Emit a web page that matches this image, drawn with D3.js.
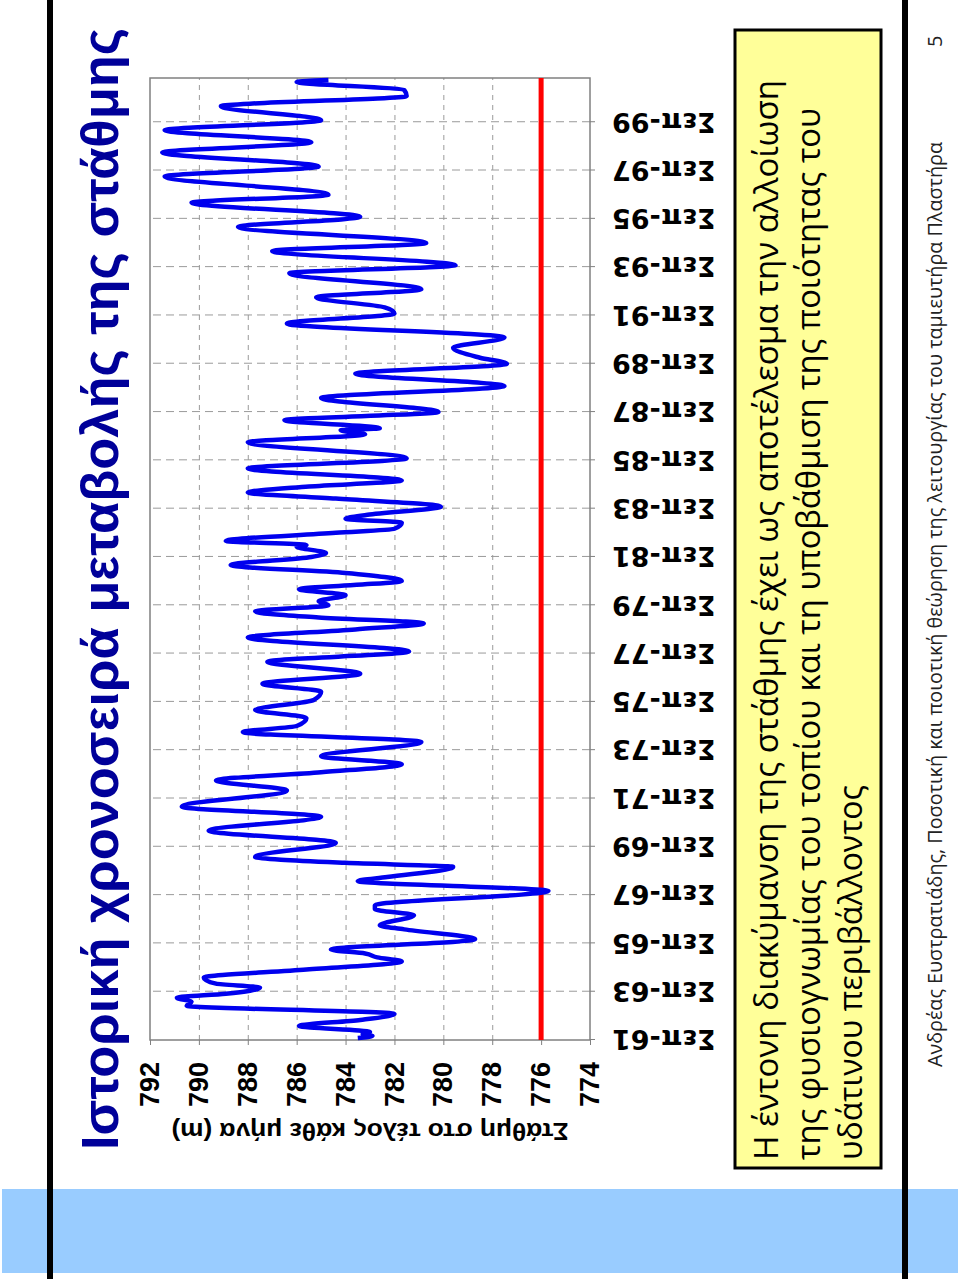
<!DOCTYPE html>
<html>
<head>
<meta charset="utf-8">
<style>
body {
  margin: 0;
  background: #fff;
}
svg {
  display: block;
}
.grid line {
  stroke: #9a9a9a;
  stroke-width: 1px;
}
.grid path {
  display: none;
}
</style>
<script src="https://cdn.jsdelivr.net/npm/d3@7/dist/d3.min.js"></script>
</head>
<body>
<script>
// level at the end of each month (m) at the turning points
var months = [
  "1961-10", "1961-11", "1961-12", "1962-01", "1962-04", "1962-07", "1962-10",
  "1963-02", "1963-04", "1963-06", "1963-08", "1963-11", "1964-01", "1964-04",
  "1964-08", "1964-12", "1965-02", "1965-04", "1965-06", "1965-11", "1966-04",
  "1966-06", "1966-11", "1967-02", "1967-04", "1967-11", "1968-04", "1968-06",
  "1968-11", "1969-01", "1969-04", "1969-11", "1970-05", "1970-12", "1971-05",
  "1972-01", "1972-06", "1972-10", "1973-02", "1973-06", "1974-01", "1974-06",
  "1974-09", "1975-01", "1975-05", "1975-10", "1976-02", "1976-06", "1976-11",
  "1977-05", "1977-10", "1978-05", "1978-09", "1978-12", "1979-03", "1979-06",
  "1979-09", "1979-11", "1980-02", "1980-05", "1980-09", "1981-01", "1981-05",
  "1981-09", "1981-11", "1982-02", "1982-03", "1982-05", "1982-09", "1982-11",
  "1983-02", "1983-04", "1983-06", "1983-10", "1984-02", "1984-05", "1984-08",
  "1984-11", "1985-05", "1985-10", "1986-06", "1986-10", "1986-12", "1987-01",
  "1987-05", "1987-09", "1988-04", "1988-10", "1989-04", "1989-09", "1989-12",
  "1990-05", "1990-10", "1991-05", "1991-10", "1992-01", "1992-06", "1992-10",
  "1993-06", "1993-10", "1994-05", "1994-09", "1995-05", "1995-10", "1996-05",
  "1996-09", "1997-06", "1997-11", "1998-06", "1998-11", "1999-05", "1999-10",
  "2000-05", "2000-10", "2001-01", "2001-05", "2001-06"
];
var levels = [
  783.5, 782.9, 783.3, 783.0, 785.9, 783.4, 782.0,
  790.5, 790.3, 790.9, 788.9, 787.5, 789.3, 789.8,
  785.6, 781.7, 782.7, 783.2, 784.6, 778.7, 781.6,
  782.6, 781.2, 782.8, 782.8, 775.7, 783.5, 782.3,
  779.6, 784.0, 787.7, 784.4, 789.6, 785.0, 790.7,
  786.4, 789.3, 785.0, 781.7, 785.0, 780.9, 788.2,
  786.0, 785.6, 787.7, 785.3, 785.0, 787.4, 783.4,
  787.2, 781.4, 788.0, 783.6, 780.8, 785.1, 787.7,
  784.7, 785.1, 784.0, 785.9, 781.7, 784.0, 788.7,
  785.4, 784.8, 786.0, 785.6, 788.9, 784.4, 782.0,
  781.7, 784.0, 783.1, 780.1, 784.4, 788.0, 785.5,
  781.7, 788.0, 781.5, 788.0, 783.2, 784.2, 782.6,
  786.5, 780.2, 785.0, 777.5, 783.6, 777.4, 778.5,
  779.6, 777.5, 786.4, 782.0, 782.4, 785.2, 780.9,
  786.3, 779.5, 787.0, 780.7, 788.4, 783.4, 790.3,
  784.7, 791.4, 785.1, 791.5, 785.4, 791.4, 785.0,
  789.1, 781.5, 781.6, 786.0, 784.7
];

var tickMonths = [
  "1961-09", "1963-09", "1965-09", "1967-09", "1969-09", "1971-09", "1973-09",
  "1975-09", "1977-09", "1979-09", "1981-09", "1983-09", "1985-09", "1987-09",
  "1989-09", "1991-09", "1993-09", "1995-09", "1997-09", "1999-09"
];
var tickLabels = [
  "Σεπ-61", "Σεπ-63", "Σεπ-65", "Σεπ-67", "Σεπ-69", "Σεπ-71", "Σεπ-73",
  "Σεπ-75", "Σεπ-77", "Σεπ-79", "Σεπ-81", "Σεπ-83", "Σεπ-85", "Σεπ-87",
  "Σεπ-89", "Σεπ-91", "Σεπ-93", "Σεπ-95", "Σεπ-97", "Σεπ-99"
];
var levelTicks = [774, 776, 778, 780, 782, 784, 786, 788, 790, 792];
var minLevel = 776;
var axisStart = "1961-09", axisEnd = "2001-07";

var title = "Ιστορική χρονοσειρά μεταβολής της στάθμης";
var yTitle = "Στάθμη στο τέλος κάθε μήνα (m)";
var note = [
  "Η έντονη διακύμανση της στάθμης έχει ως αποτέλεσμα την αλλοίωση",
  "της φυσιογνωμίας του τοπίου και τη υποβάθμιση της ποιότητας του",
  "υδάτινου περιβάλλοντος"
];
var footer = "Ανδρέας Ευστρατιάδης, Ποσοτική και ποιοτική θεώρηση της λειτουργίας του ταμιευτήρα Πλαστήρα";

var parseMonth = d3.timeParse("%Y-%m");

// the page is a landscape slide turned on its side
var W = 1279, H = 960;
var svg = d3.select("body").append("svg")
    .attr("width", 960)
    .attr("height", 1279);

var slide = svg.append("g")
    .attr("transform", "translate(0," + W + ") rotate(-90)");

slide.append("rect")
    .attr("x", 6).attr("y", 2)
    .attr("width", 84).attr("height", 956)
    .attr("fill", "#99ccff");

slide.selectAll(".rule")
  .data([50, 905])
  .enter().append("line")
    .attr("x1", 0).attr("x2", W)
    .attr("y1", d => d).attr("y2", d => d)
    .attr("stroke", "#000")
    .attr("stroke-width", 6);

slide.append("text")
    .attr("x", 129).attr("y", 118)
    .attr("textLength", 1122)
    .attr("lengthAdjust", "spacingAndGlyphs")
    .style("font", "bold 52px 'Liberation Sans', Arial, sans-serif")
    .attr("fill", "#000099")
    .text(title);

// chart area in slide coordinates
var pl = 239, pr = 1201, pt = 150, pb = 590;

var x = d3.scaleTime()
    .domain([parseMonth(axisStart), parseMonth(axisEnd)])
    .range([pl, pr]);

var y = d3.scaleLinear()
    .domain([774, 792])
    .range([pb, pt]);

slide.append("g")
    .attr("class", "grid")
    .attr("transform", "translate(" + pl + ",0)")
    .call(d3.axisLeft(y).tickValues(levelTicks.slice(1, -1)).tickSize(-(pr - pl)).tickFormat(""))
    .selectAll("line").attr("stroke-dasharray", "5,5");

slide.append("g")
    .attr("class", "grid")
    .attr("transform", "translate(0," + pb + ")")
    .call(d3.axisBottom(x).tickValues(tickMonths.slice(1).map(parseMonth)).tickSize(-(pb - pt)).tickFormat(""))
    .selectAll("line").attr("stroke-dasharray", "8,5");

slide.append("rect")
    .attr("x", pl).attr("y", pt)
    .attr("width", pr - pl).attr("height", pb - pt)
    .attr("fill", "none")
    .attr("stroke", "#808080")
    .attr("stroke-width", 1.5);

var yAxis = slide.append("g")
    .attr("transform", "translate(" + pl + ",0)")
    .call(d3.axisLeft(y).tickValues(levelTicks).tickSize(5).tickPadding(17));
yAxis.select(".domain").remove();
yAxis.selectAll("line").attr("stroke", "#808080");
yAxis.selectAll("text")
    .style("font", "bold 27px 'Liberation Sans', Arial, sans-serif")
    .attr("fill", "#000");

var xAxis = slide.append("g")
    .attr("transform", "translate(0," + pb + ")")
    .call(d3.axisBottom(x).tickValues(tickMonths.map(parseMonth)).tickSize(5).tickFormat(""));
xAxis.select(".domain").remove();
xAxis.selectAll("line").attr("stroke", "#808080");

slide.selectAll(".xlabel")
  .data(tickMonths)
  .enter().append("text")
    .attr("class", "xlabel")
    .attr("transform", d => "translate(" + x(parseMonth(d)) + "," + (pb + 22) + ") rotate(-90)")
    .attr("dy", "0.36em")
    .attr("text-anchor", "end")
    .style("font", "bold 27px 'DejaVu Sans', Verdana, sans-serif")
    .attr("fill", "#000")
    .text((d, i) => tickLabels[i]);

slide.append("text")
    .attr("transform", "translate(156," + ((pt + pb) / 2) + ") rotate(-90)")
    .attr("text-anchor", "middle")
    .attr("textLength", 397)
    .attr("lengthAdjust", "spacingAndGlyphs")
    .style("font", "bold 24px 'Liberation Sans', Arial, sans-serif")
    .attr("fill", "#000")
    .text(yTitle);

slide.append("line")
    .attr("x1", pl).attr("x2", pr)
    .attr("y1", y(minLevel)).attr("y2", y(minLevel))
    .attr("stroke", "#ff0000")
    .attr("stroke-width", 5);

var line = d3.line()
    .x((d, i) => x(parseMonth(months[i])))
    .y(d => y(d))
    .curve(d3.curveMonotoneX);

slide.append("path")
    .datum(levels)
    .attr("d", line)
    .attr("fill", "none")
    .attr("stroke", "#0000ee")
    .attr("stroke-width", 4.5)
    .attr("stroke-linejoin", "round");

// note box
slide.append("rect")
    .attr("x", 111).attr("y", 735)
    .attr("width", 1138).attr("height", 146)
    .attr("fill", "#ffff99")
    .attr("stroke", "#000")
    .attr("stroke-width", 3);

var noteLens = [1080, 1052, 375];
slide.selectAll(".note")
  .data(note)
  .enter().append("text")
    .attr("x", 119)
    .attr("y", (d, i) => 778 + i * 42)
    .attr("textLength", (d, i) => noteLens[i])
    .attr("lengthAdjust", "spacingAndGlyphs")
    .style("font", "33px 'Open Sans', sans-serif")
    .attr("fill", "#000")
    .text(d => d);

slide.append("text")
    .attr("x", 212).attr("y", 942)
    .attr("textLength", 925)
    .attr("lengthAdjust", "spacingAndGlyphs")
    .style("font", "20px 'Open Sans', sans-serif")
    .attr("fill", "#222")
    .text(footer);

slide.append("text")
    .attr("x", 1232).attr("y", 942)
    .style("font", "20px 'Open Sans', sans-serif")
    .attr("fill", "#222")
    .text("5");
</script>
</body>
</html>
